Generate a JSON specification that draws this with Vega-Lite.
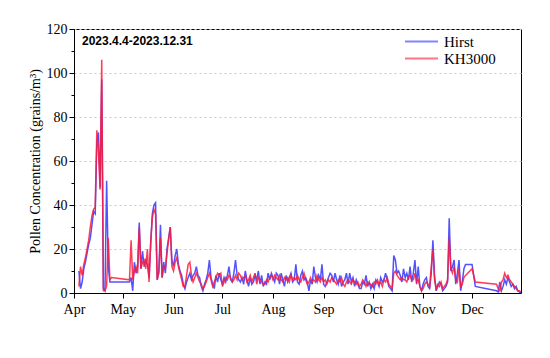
{
  "$schema": "https://vega.github.io/schema/vega-lite/v6.json",
  "autosize": {"type": "none"},
  "width": 447,
  "height": 264,
  "padding": {"left": 74, "top": 29, "right": 29, "bottom": 65},
  "background": "white",
  "config": {
    "view": {"stroke": "black", "strokeWidth": 1},
    "axis": {
      "domainColor": "black",
      "tickColor": "black",
      "labelColor": "black",
      "titleColor": "black",
      "labelFont": "Liberation Serif",
      "titleFont": "Liberation Serif",
      "labelFontSize": 14,
      "titleFontSize": 14,
      "titleFontWeight": "normal"
    },
    "legend": {
      "labelFont": "Liberation Serif",
      "labelFontSize": 15,
      "labelColor": "black"
    }
  },
  "title": {
    "text": "2023.4.4-2023.12.31",
    "anchor": "start",
    "frame": "group",
    "font": "Liberation Sans",
    "fontSize": 12,
    "fontWeight": "bold",
    "color": "black",
    "baseline": "top",
    "offset": -26,
    "dx": 8
  },
  "data": {
    "values": [
      {"d": "2023-04-04", "Hirst": 10, "KH3000": 3},
      {"d": "2023-04-05", "Hirst": 2, "KH3000": 12},
      {"d": "2023-04-06", "Hirst": 5, "KH3000": 8},
      {"d": "2023-04-07", "Hirst": 11, "KH3000": 13},
      {"d": "2023-04-08", "Hirst": 14, "KH3000": 16},
      {"d": "2023-04-09", "Hirst": 18, "KH3000": 20},
      {"d": "2023-04-10", "Hirst": 22, "KH3000": 24},
      {"d": "2023-04-11", "Hirst": 25, "KH3000": 30},
      {"d": "2023-04-12", "Hirst": 31, "KH3000": 35},
      {"d": "2023-04-13", "Hirst": 37, "KH3000": 38},
      {"d": "2023-04-14", "Hirst": 36, "KH3000": 39},
      {"d": "2023-04-15", "Hirst": 68, "KH3000": 74},
      {"d": "2023-04-16", "Hirst": 73, "KH3000": 64},
      {"d": "2023-04-17", "Hirst": 48, "KH3000": 47},
      {"d": "2023-04-18", "Hirst": 97, "KH3000": 106},
      {"d": "2023-04-19", "Hirst": 2, "KH3000": 1},
      {"d": "2023-04-20", "Hirst": 1, "KH3000": 1},
      {"d": "2023-04-21", "Hirst": 51, "KH3000": 3},
      {"d": "2023-04-22", "Hirst": 12, "KH3000": 25},
      {"d": "2023-04-23", "Hirst": 5, "KH3000": 6},
      {"d": "2023-04-24", "Hirst": 5, "KH3000": 7},
      {"d": "2023-05-05", "Hirst": 5, "KH3000": 6},
      {"d": "2023-05-06", "Hirst": 7, "KH3000": 24},
      {"d": "2023-05-07", "Hirst": 1, "KH3000": 6},
      {"d": "2023-05-08", "Hirst": 14, "KH3000": 10},
      {"d": "2023-05-09", "Hirst": 9, "KH3000": 12},
      {"d": "2023-05-10", "Hirst": 12, "KH3000": 9},
      {"d": "2023-05-11", "Hirst": 32, "KH3000": 30},
      {"d": "2023-05-12", "Hirst": 11, "KH3000": 11},
      {"d": "2023-05-13", "Hirst": 19, "KH3000": 14},
      {"d": "2023-05-14", "Hirst": 12, "KH3000": 15},
      {"d": "2023-05-15", "Hirst": 15, "KH3000": 11},
      {"d": "2023-05-16", "Hirst": 13, "KH3000": 20},
      {"d": "2023-05-17", "Hirst": 7, "KH3000": 5},
      {"d": "2023-05-18", "Hirst": 22, "KH3000": 23},
      {"d": "2023-05-19", "Hirst": 36, "KH3000": 34},
      {"d": "2023-05-20", "Hirst": 40, "KH3000": 38},
      {"d": "2023-05-21", "Hirst": 41, "KH3000": 36},
      {"d": "2023-05-22", "Hirst": 6, "KH3000": 6},
      {"d": "2023-05-23", "Hirst": 10, "KH3000": 9},
      {"d": "2023-05-24", "Hirst": 31, "KH3000": 25},
      {"d": "2023-05-25", "Hirst": 7, "KH3000": 7},
      {"d": "2023-05-26", "Hirst": 14, "KH3000": 12},
      {"d": "2023-05-27", "Hirst": 9, "KH3000": 11},
      {"d": "2023-05-28", "Hirst": 20, "KH3000": 18},
      {"d": "2023-05-29", "Hirst": 25, "KH3000": 24},
      {"d": "2023-05-30", "Hirst": 30, "KH3000": 30},
      {"d": "2023-05-31", "Hirst": 15, "KH3000": 12},
      {"d": "2023-06-01", "Hirst": 12, "KH3000": 10},
      {"d": "2023-06-02", "Hirst": 17, "KH3000": 14},
      {"d": "2023-06-03", "Hirst": 20, "KH3000": 16},
      {"d": "2023-06-04", "Hirst": 13, "KH3000": 12},
      {"d": "2023-06-05", "Hirst": 10, "KH3000": 9},
      {"d": "2023-06-06", "Hirst": 8, "KH3000": 6},
      {"d": "2023-06-07", "Hirst": 4, "KH3000": 3},
      {"d": "2023-06-08", "Hirst": 2, "KH3000": 3},
      {"d": "2023-06-09", "Hirst": 5, "KH3000": 8},
      {"d": "2023-06-10", "Hirst": 7, "KH3000": 13},
      {"d": "2023-06-11", "Hirst": 9, "KH3000": 14},
      {"d": "2023-06-12", "Hirst": 6, "KH3000": 8},
      {"d": "2023-06-13", "Hirst": 8, "KH3000": 5},
      {"d": "2023-06-14", "Hirst": 9, "KH3000": 7},
      {"d": "2023-06-15", "Hirst": 12, "KH3000": 9},
      {"d": "2023-06-16", "Hirst": 8, "KH3000": 7},
      {"d": "2023-06-17", "Hirst": 7, "KH3000": 5},
      {"d": "2023-06-18", "Hirst": 3, "KH3000": 4},
      {"d": "2023-06-19", "Hirst": 1, "KH3000": 2},
      {"d": "2023-06-20", "Hirst": 4, "KH3000": 3},
      {"d": "2023-06-21", "Hirst": 6, "KH3000": 5},
      {"d": "2023-06-22", "Hirst": 9, "KH3000": 7},
      {"d": "2023-06-23", "Hirst": 15, "KH3000": 9},
      {"d": "2023-06-24", "Hirst": 7, "KH3000": 6},
      {"d": "2023-06-25", "Hirst": 4, "KH3000": 3},
      {"d": "2023-06-26", "Hirst": 2, "KH3000": 5},
      {"d": "2023-06-27", "Hirst": 8, "KH3000": 7},
      {"d": "2023-06-28", "Hirst": 5, "KH3000": 9},
      {"d": "2023-06-29", "Hirst": 9, "KH3000": 8},
      {"d": "2023-06-30", "Hirst": 6, "KH3000": 9},
      {"d": "2023-07-01", "Hirst": 4, "KH3000": 3},
      {"d": "2023-07-02", "Hirst": 7, "KH3000": 5},
      {"d": "2023-07-03", "Hirst": 5, "KH3000": 7},
      {"d": "2023-07-04", "Hirst": 8, "KH3000": 6},
      {"d": "2023-07-05", "Hirst": 12, "KH3000": 8},
      {"d": "2023-07-06", "Hirst": 6, "KH3000": 7},
      {"d": "2023-07-07", "Hirst": 5, "KH3000": 5},
      {"d": "2023-07-08", "Hirst": 9, "KH3000": 6},
      {"d": "2023-07-09", "Hirst": 15, "KH3000": 8},
      {"d": "2023-07-10", "Hirst": 8, "KH3000": 6},
      {"d": "2023-07-11", "Hirst": 6, "KH3000": 9},
      {"d": "2023-07-12", "Hirst": 5, "KH3000": 8},
      {"d": "2023-07-13", "Hirst": 7, "KH3000": 6},
      {"d": "2023-07-14", "Hirst": 4, "KH3000": 7},
      {"d": "2023-07-15", "Hirst": 10, "KH3000": 8},
      {"d": "2023-07-16", "Hirst": 6, "KH3000": 5},
      {"d": "2023-07-17", "Hirst": 3, "KH3000": 6},
      {"d": "2023-07-18", "Hirst": 7, "KH3000": 8},
      {"d": "2023-07-19", "Hirst": 4, "KH3000": 5},
      {"d": "2023-07-20", "Hirst": 5, "KH3000": 7},
      {"d": "2023-07-21", "Hirst": 8, "KH3000": 9},
      {"d": "2023-07-22", "Hirst": 6, "KH3000": 4},
      {"d": "2023-07-23", "Hirst": 10, "KH3000": 7},
      {"d": "2023-07-24", "Hirst": 4, "KH3000": 6},
      {"d": "2023-07-25", "Hirst": 8, "KH3000": 5},
      {"d": "2023-07-26", "Hirst": 3, "KH3000": 4},
      {"d": "2023-07-27", "Hirst": 5, "KH3000": 4},
      {"d": "2023-07-28", "Hirst": 4, "KH3000": 6},
      {"d": "2023-07-29", "Hirst": 9, "KH3000": 5},
      {"d": "2023-07-30", "Hirst": 6, "KH3000": 7},
      {"d": "2023-07-31", "Hirst": 9, "KH3000": 8},
      {"d": "2023-08-01", "Hirst": 7, "KH3000": 6},
      {"d": "2023-08-02", "Hirst": 5, "KH3000": 8},
      {"d": "2023-08-03", "Hirst": 9, "KH3000": 7},
      {"d": "2023-08-04", "Hirst": 8, "KH3000": 6},
      {"d": "2023-08-05", "Hirst": 4, "KH3000": 8},
      {"d": "2023-08-06", "Hirst": 9, "KH3000": 6},
      {"d": "2023-08-07", "Hirst": 6, "KH3000": 5},
      {"d": "2023-08-08", "Hirst": 3, "KH3000": 7},
      {"d": "2023-08-09", "Hirst": 8, "KH3000": 6},
      {"d": "2023-08-10", "Hirst": 5, "KH3000": 7},
      {"d": "2023-08-11", "Hirst": 7, "KH3000": 5},
      {"d": "2023-08-12", "Hirst": 9, "KH3000": 8},
      {"d": "2023-08-13", "Hirst": 5, "KH3000": 6},
      {"d": "2023-08-14", "Hirst": 6, "KH3000": 7},
      {"d": "2023-08-15", "Hirst": 13, "KH3000": 6},
      {"d": "2023-08-16", "Hirst": 5, "KH3000": 8},
      {"d": "2023-08-17", "Hirst": 4, "KH3000": 6},
      {"d": "2023-08-18", "Hirst": 8, "KH3000": 5},
      {"d": "2023-08-19", "Hirst": 10, "KH3000": 7},
      {"d": "2023-08-20", "Hirst": 6, "KH3000": 9},
      {"d": "2023-08-21", "Hirst": 7, "KH3000": 6},
      {"d": "2023-08-22", "Hirst": 5, "KH3000": 4},
      {"d": "2023-08-23", "Hirst": 1, "KH3000": 5},
      {"d": "2023-08-24", "Hirst": 6, "KH3000": 7},
      {"d": "2023-08-25", "Hirst": 4, "KH3000": 5},
      {"d": "2023-08-26", "Hirst": 12, "KH3000": 6},
      {"d": "2023-08-27", "Hirst": 7, "KH3000": 5},
      {"d": "2023-08-28", "Hirst": 5, "KH3000": 8},
      {"d": "2023-08-29", "Hirst": 8, "KH3000": 6},
      {"d": "2023-08-30", "Hirst": 6, "KH3000": 5},
      {"d": "2023-08-31", "Hirst": 13, "KH3000": 7},
      {"d": "2023-09-01", "Hirst": 4, "KH3000": 5},
      {"d": "2023-09-02", "Hirst": 3, "KH3000": 6},
      {"d": "2023-09-03", "Hirst": 5, "KH3000": 4},
      {"d": "2023-09-04", "Hirst": 7, "KH3000": 6},
      {"d": "2023-09-05", "Hirst": 9, "KH3000": 5},
      {"d": "2023-09-06", "Hirst": 8, "KH3000": 7},
      {"d": "2023-09-07", "Hirst": 5, "KH3000": 6},
      {"d": "2023-09-08", "Hirst": 9, "KH3000": 5},
      {"d": "2023-09-09", "Hirst": 6, "KH3000": 4},
      {"d": "2023-09-10", "Hirst": 4, "KH3000": 6},
      {"d": "2023-09-11", "Hirst": 8, "KH3000": 5},
      {"d": "2023-09-12", "Hirst": 3, "KH3000": 7},
      {"d": "2023-09-13", "Hirst": 5, "KH3000": 4},
      {"d": "2023-09-14", "Hirst": 6, "KH3000": 3},
      {"d": "2023-09-15", "Hirst": 9, "KH3000": 5},
      {"d": "2023-09-16", "Hirst": 4, "KH3000": 6},
      {"d": "2023-09-17", "Hirst": 9, "KH3000": 5},
      {"d": "2023-09-18", "Hirst": 5, "KH3000": 4},
      {"d": "2023-09-19", "Hirst": 7, "KH3000": 6},
      {"d": "2023-09-20", "Hirst": 3, "KH3000": 5},
      {"d": "2023-09-21", "Hirst": 6, "KH3000": 4},
      {"d": "2023-09-22", "Hirst": 4, "KH3000": 5},
      {"d": "2023-09-23", "Hirst": 2, "KH3000": 3},
      {"d": "2023-09-24", "Hirst": 2, "KH3000": 4},
      {"d": "2023-09-25", "Hirst": 5, "KH3000": 6},
      {"d": "2023-09-26", "Hirst": 4, "KH3000": 5},
      {"d": "2023-09-27", "Hirst": 8, "KH3000": 3},
      {"d": "2023-09-28", "Hirst": 3, "KH3000": 5},
      {"d": "2023-09-29", "Hirst": 5, "KH3000": 4},
      {"d": "2023-09-30", "Hirst": 2, "KH3000": 4},
      {"d": "2023-10-01", "Hirst": 4, "KH3000": 3},
      {"d": "2023-10-02", "Hirst": 2, "KH3000": 5},
      {"d": "2023-10-03", "Hirst": 6, "KH3000": 4},
      {"d": "2023-10-04", "Hirst": 5, "KH3000": 6},
      {"d": "2023-10-05", "Hirst": 3, "KH3000": 4},
      {"d": "2023-10-06", "Hirst": 7, "KH3000": 5},
      {"d": "2023-10-07", "Hirst": 5, "KH3000": 3},
      {"d": "2023-10-08", "Hirst": 6, "KH3000": 6},
      {"d": "2023-10-09", "Hirst": 9, "KH3000": 5},
      {"d": "2023-10-10", "Hirst": 6, "KH3000": 7},
      {"d": "2023-10-11", "Hirst": 3, "KH3000": 4},
      {"d": "2023-10-12", "Hirst": 2, "KH3000": 3},
      {"d": "2023-10-13", "Hirst": 1, "KH3000": 2},
      {"d": "2023-10-14", "Hirst": 17, "KH3000": 9},
      {"d": "2023-10-15", "Hirst": 15, "KH3000": 10},
      {"d": "2023-10-16", "Hirst": 9, "KH3000": 8},
      {"d": "2023-10-17", "Hirst": 10, "KH3000": 7},
      {"d": "2023-10-18", "Hirst": 8, "KH3000": 6},
      {"d": "2023-10-19", "Hirst": 5, "KH3000": 7},
      {"d": "2023-10-20", "Hirst": 11, "KH3000": 6},
      {"d": "2023-10-21", "Hirst": 7, "KH3000": 6},
      {"d": "2023-10-22", "Hirst": 9, "KH3000": 5},
      {"d": "2023-10-23", "Hirst": 6, "KH3000": 7},
      {"d": "2023-10-24", "Hirst": 12, "KH3000": 8},
      {"d": "2023-10-25", "Hirst": 5, "KH3000": 6},
      {"d": "2023-10-26", "Hirst": 9, "KH3000": 6},
      {"d": "2023-10-27", "Hirst": 15, "KH3000": 9},
      {"d": "2023-10-28", "Hirst": 4, "KH3000": 5},
      {"d": "2023-10-29", "Hirst": 12, "KH3000": 6},
      {"d": "2023-10-30", "Hirst": 3, "KH3000": 3},
      {"d": "2023-10-31", "Hirst": 1, "KH3000": 1},
      {"d": "2023-11-01", "Hirst": 4, "KH3000": 2},
      {"d": "2023-11-02", "Hirst": 6, "KH3000": 4},
      {"d": "2023-11-03", "Hirst": 7, "KH3000": 5},
      {"d": "2023-11-04", "Hirst": 3, "KH3000": 4},
      {"d": "2023-11-05", "Hirst": 2, "KH3000": 3},
      {"d": "2023-11-06", "Hirst": 9, "KH3000": 12},
      {"d": "2023-11-07", "Hirst": 24, "KH3000": 20},
      {"d": "2023-11-08", "Hirst": 8, "KH3000": 6},
      {"d": "2023-11-09", "Hirst": 1, "KH3000": 2},
      {"d": "2023-11-10", "Hirst": 3, "KH3000": 4},
      {"d": "2023-11-11", "Hirst": 5, "KH3000": 3},
      {"d": "2023-11-12", "Hirst": 4, "KH3000": 5},
      {"d": "2023-11-13", "Hirst": 1, "KH3000": 2},
      {"d": "2023-11-14", "Hirst": 2, "KH3000": 3},
      {"d": "2023-11-15", "Hirst": 3, "KH3000": 4},
      {"d": "2023-11-16", "Hirst": 5, "KH3000": 6},
      {"d": "2023-11-17", "Hirst": 34, "KH3000": 25},
      {"d": "2023-11-18", "Hirst": 10, "KH3000": 11},
      {"d": "2023-11-19", "Hirst": 12, "KH3000": 9},
      {"d": "2023-11-20", "Hirst": 15, "KH3000": 12},
      {"d": "2023-11-21", "Hirst": 4, "KH3000": 6},
      {"d": "2023-11-22", "Hirst": 9, "KH3000": 5},
      {"d": "2023-11-23", "Hirst": 15, "KH3000": 11},
      {"d": "2023-11-24", "Hirst": 1, "KH3000": 3},
      {"d": "2023-11-25", "Hirst": 5, "KH3000": 4},
      {"d": "2023-11-26", "Hirst": 11, "KH3000": 7},
      {"d": "2023-11-27", "Hirst": 13, "KH3000": 8},
      {"d": "2023-12-01", "Hirst": 13, "KH3000": 11},
      {"d": "2023-12-03", "Hirst": 3, "KH3000": 5},
      {"d": "2023-12-16", "Hirst": 1, "KH3000": 4},
      {"d": "2023-12-17", "Hirst": 0.5, "KH3000": 2},
      {"d": "2023-12-18", "Hirst": 5, "KH3000": 1},
      {"d": "2023-12-19", "Hirst": 1, "KH3000": 5},
      {"d": "2023-12-20", "Hirst": 3, "KH3000": 6},
      {"d": "2023-12-21", "Hirst": 6, "KH3000": 9},
      {"d": "2023-12-22", "Hirst": 4, "KH3000": 7},
      {"d": "2023-12-23", "Hirst": 7, "KH3000": 8},
      {"d": "2023-12-24", "Hirst": 5, "KH3000": 6},
      {"d": "2023-12-25", "Hirst": 3, "KH3000": 5},
      {"d": "2023-12-26", "Hirst": 4, "KH3000": 4},
      {"d": "2023-12-27", "Hirst": 2, "KH3000": 3},
      {"d": "2023-12-28", "Hirst": 3, "KH3000": 2},
      {"d": "2023-12-29", "Hirst": 1, "KH3000": 1},
      {"d": "2023-12-30", "Hirst": 0.5, "KH3000": 1},
      {"d": "2023-12-31", "Hirst": 0, "KH3000": 0.5}
    ]
  },
  "transform": [
    {"fold": ["Hirst", "KH3000"], "as": ["series", "value"]}
  ],
  "mark": {"type": "line", "strokeWidth": 1.5, "opacity": 0.85, "clip": true},
  "encoding": {
    "x": {
      "field": "d",
      "type": "temporal",
      "scale": {
        "type": "utc",
        "domain": [
          {"year": 2023, "month": 4, "date": 1, "utc": true},
          {"year": 2023, "month": 12, "date": 31, "utc": true}
        ]
      },
      "axis": {
        "title": null,
        "format": "%b",
        "tickCount": {"interval": "month", "step": 1},
        "grid": false,
        "tickSize": 5,
        "labelPadding": 4,
        "labelFlush": false,
        "labelOverlap": false
      }
    },
    "y": {
      "field": "value",
      "type": "quantitative",
      "scale": {"domain": [0, 120], "nice": false},
      "axis": {
        "title": "Pollen Concentration (grains/m³)",
        "values": [0, 10, 20, 30, 40, 50, 60, 70, 80, 90, 100, 110, 120],
        "labelExpr": "datum.value % 20 === 0 ? datum.label : ''",
        "tickSize": {"condition": {"test": "datum.value % 20 === 0", "value": 5}, "value": 3},
        "grid": true,
        "gridColor": "#c8c8c8",
        "gridDash": [2, 3],
        "gridOpacity": {"condition": {"test": "datum.value % 20 === 0", "value": 1}, "value": 0},
        "labelPadding": 2,
        "titlePadding": 4
      }
    },
    "color": {
      "field": "series",
      "type": "nominal",
      "scale": {"domain": ["Hirst", "KH3000"], "range": ["#3434ff", "#ff1a3a"]},
      "legend": {
        "title": null,
        "orient": "none",
        "legendX": 340,
        "legendY": 5,
        "symbolType": "M-3,0H3",
        "symbolSize": 121,
        "symbolStrokeWidth": 2,
        "symbolOpacity": 0.6,
        "labelOffset": 15,
        "rowPadding": 1
      }
    }
  }
}
